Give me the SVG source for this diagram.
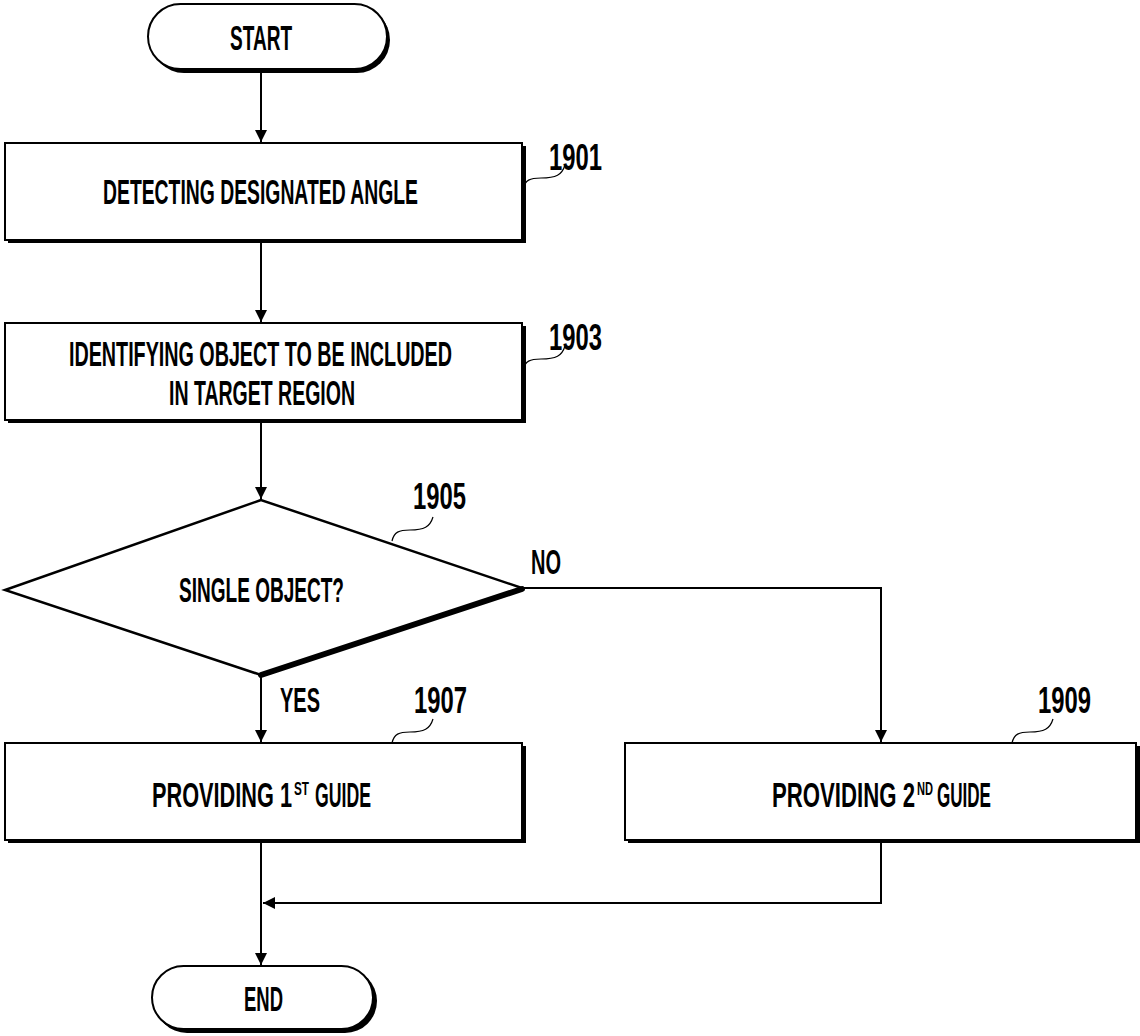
<svg xmlns="http://www.w3.org/2000/svg" width="1140" height="1036" viewBox="0 0 1140 1036">
<defs>
<style>
.t{font-family:"Liberation Sans",Arial,sans-serif;font-weight:bold;font-size:35px;fill:#000;}
.lbl{font-family:"Liberation Sans",Arial,sans-serif;font-weight:bold;font-size:37px;fill:#000;}
.sup{font-size:19px;}
.box{fill:#fff;stroke:#000;stroke-width:2;}
.sh{fill:#000;}
.ln{fill:none;stroke:#000;stroke-width:2;}
.lead{fill:none;stroke:#000;stroke-width:1.2;}
</style>
<marker id="ah" viewBox="0 0 12 22" refX="12" refY="11" markerWidth="12" markerHeight="22" markerUnits="userSpaceOnUse" orient="auto-start-reverse">
<path d="M0,5 L12,11 L0,17 Z" fill="#000"/>
</marker>
</defs>
<rect width="1140" height="1036" fill="#fff"/>

<g id="connectors">
<line class="ln" x1="261" y1="70" x2="261" y2="142" marker-end="url(#ah)"/>
<line class="ln" x1="261" y1="243" x2="261" y2="322" marker-end="url(#ah)"/>
<line class="ln" x1="261" y1="423" x2="261" y2="499" marker-end="url(#ah)"/>
<line class="ln" x1="261" y1="675" x2="261" y2="742" marker-end="url(#ah)"/>
<polyline class="ln" points="522,588 881,588 881,742" marker-end="url(#ah)"/>
<line class="ln" x1="261" y1="843" x2="261" y2="965" marker-end="url(#ah)"/>
<polyline class="ln" points="881,843 881,903 263,903" marker-end="url(#ah)"/>
</g>

<g id="start">
<rect class="sh" x="151" y="7" width="239" height="66" rx="33"/>
<rect class="box" x="148" y="4" width="239" height="65" rx="32.5"/>
<text class="t" x="230" y="50" textLength="62" lengthAdjust="spacingAndGlyphs">START</text>
</g>

<g id="n1901">
<rect class="sh" x="8" y="146" width="518" height="97"/>
<rect class="box" x="5" y="143" width="517" height="97"/>
<text class="t" x="103" y="204" textLength="315" lengthAdjust="spacingAndGlyphs">DETECTING DESIGNATED ANGLE</text>
<text class="lbl" x="549" y="170" textLength="53" lengthAdjust="spacingAndGlyphs">1901</text>
<path class="lead" d="M523,189 C525,180 530,178 541,178 C556,178 562,175 565,165"/>
</g>

<g id="n1903">
<rect class="sh" x="8" y="326" width="518" height="97"/>
<rect class="box" x="5" y="323" width="517" height="97"/>
<text class="t" x="69" y="366" textLength="383" lengthAdjust="spacingAndGlyphs">IDENTIFYING OBJECT TO BE INCLUDED</text>
<text class="t" x="169" y="405" textLength="186" lengthAdjust="spacingAndGlyphs">IN TARGET REGION</text>
<text class="lbl" x="549" y="350" textLength="53" lengthAdjust="spacingAndGlyphs">1903</text>
<path class="lead" d="M523,370 C525,361 530,359 541,359 C556,359 562,356 565,346"/>
</g>

<g id="n1905">
<polygon points="261,500 5,590 261,675 522,588" fill="#fff" stroke="#000" stroke-width="2.5" stroke-linejoin="miter"/>
<line x1="522" y1="589" x2="261" y2="675" stroke="#000" stroke-width="6" stroke-linecap="round"/>
<text class="t" x="179" y="602" textLength="165" lengthAdjust="spacingAndGlyphs">SINGLE OBJECT?</text>
<text class="lbl" x="413" y="509" textLength="53" lengthAdjust="spacingAndGlyphs">1905</text>
<path class="lead" d="M392,541 C394,532 399,530 410,530 C424,530 430,527 433,517"/>
<text class="t" x="531" y="574" textLength="30" lengthAdjust="spacingAndGlyphs">NO</text>
<text class="t" x="280" y="712" textLength="40" lengthAdjust="spacingAndGlyphs">YES</text>
</g>

<g id="n1907">
<rect class="sh" x="8" y="746" width="518" height="97"/>
<rect class="box" x="5" y="743" width="517" height="97"/>
<text class="t" x="152" y="807"><tspan textLength="140" lengthAdjust="spacingAndGlyphs">PROVIDING 1</tspan><tspan class="sup" x="294" dy="-12" textLength="15" lengthAdjust="spacingAndGlyphs">ST</tspan><tspan x="315" dy="12" textLength="56" lengthAdjust="spacingAndGlyphs">GUIDE</tspan></text>
<text class="lbl" x="414" y="713" textLength="53" lengthAdjust="spacingAndGlyphs">1907</text>
<path class="lead" d="M392,743 C394,734 399,732 410,732 C424,732 430,729 433,719"/>
</g>

<g id="n1909">
<rect class="sh" x="628" y="746" width="512" height="97"/>
<rect class="box" x="625" y="743" width="511" height="97"/>
<text class="t" x="772" y="807"><tspan textLength="143" lengthAdjust="spacingAndGlyphs">PROVIDING 2</tspan><tspan class="sup" x="917" dy="-12" textLength="16" lengthAdjust="spacingAndGlyphs">ND</tspan><tspan x="937" dy="12" textLength="54" lengthAdjust="spacingAndGlyphs">GUIDE</tspan></text>
<text class="lbl" x="1038" y="713" textLength="53" lengthAdjust="spacingAndGlyphs">1909</text>
<path class="lead" d="M1012,743 C1014,734 1019,732 1030,732 C1044,732 1050,729 1053,719"/>
</g>

<g id="end">
<rect class="sh" x="155" y="969" width="222" height="64" rx="32"/>
<rect class="box" x="152" y="966" width="221" height="63" rx="31.5"/>
<text class="t" x="244" y="1011" textLength="39" lengthAdjust="spacingAndGlyphs">END</text>
</g>
</svg>
